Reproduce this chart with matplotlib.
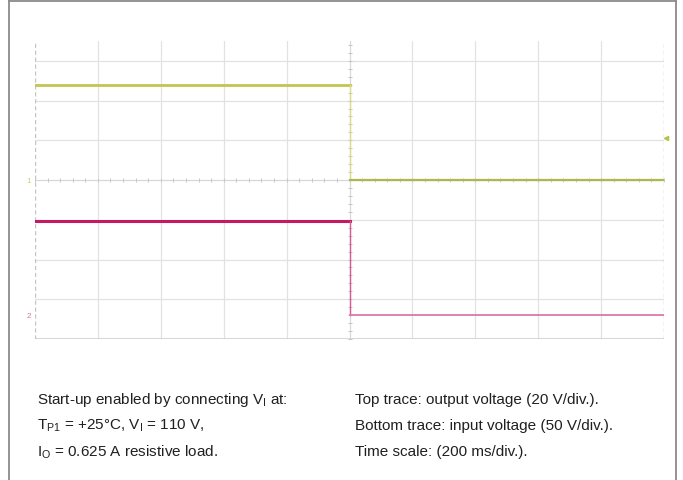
import matplotlib
matplotlib.use("Agg")
import matplotlib.pyplot as plt
from matplotlib.lines import Line2D
import numpy as np

plt.rcParams['font.family'] = ['Liberation Sans', 'DejaVu Sans']
plt.rcParams['mathtext.fontset'] = 'custom'
plt.rcParams['mathtext.rm'] = 'Liberation Sans'
plt.rcParams['mathtext.it'] = 'Liberation Sans'

# ---- data ----
time_ms = [0, 1000, 1000, 2000]          # switch-off at 1000 ms
vout_v = [48, 48, 0, 0]                  # top trace, output voltage
vin_v = [118, 118, 0, 0]                 # bottom trace, input voltage
time_per_div = 200                       # ms/div
vout_per_div = 20                        # V/div
vin_per_div = 50                         # V/div
ch1_ground_div = 0.0
ch2_ground_div = -3.4

left_lines = [r"Start-up enabled by connecting V$_{\mathrm{I}}$ at:",
              r"T$_{\mathrm{P1}}$ = +25°C, V$_{\mathrm{I}}$ = 110 V,",
              r"I$_{\mathrm{O}}$ = 0.625 A resistive load."]
right_lines = ["Top trace: output voltage (20 V/div.).",
               "Bottom trace: input voltage (50 V/div.).",
               "Time scale: (200 ms/div.)."]

W, H = 683, 481
fig = plt.figure(figsize=(W / 100, H / 100), dpi=100)
fig.patch.set_facecolor('white')

# outer frame
fc = '#8a8a8a'
fig.add_artist(Line2D([9 / W, 9 / W], [0, 1 - 2 / H], color=fc, lw=1.3))
fig.add_artist(Line2D([676 / W, 676 / W], [0, 1 - 2 / H], color=fc, lw=1.3))
fig.add_artist(Line2D([9 / W, 676 / W], [1 - 2 / H, 1 - 2 / H], color=fc, lw=1.3))

# graticule axes
x0, x1, ytop, ybot = 35, 664, 42, 340
ax = fig.add_axes([x0 / W, 1 - ybot / H, (x1 - x0) / W, (ybot - ytop) / H])
ax.set_xlim(0, 10)
ax.set_ylim(-4, 3.5)
ax.axis('off')

gc = '#e2e2e2'
for k in range(1, 10):
    if k != 5:
        ax.axvline(k, color=gc, lw=0.9, zorder=1)
for k in range(-3, 4):
    if k != 0:
        ax.axhline(k, color=gc, lw=0.9, zorder=1)
ax.axhline(-4, color='#cfcfcf', lw=1.2, zorder=1)
ax.axvline(0, color='#c4c4c4', lw=1.0, ls=(0, (3, 2)), zorder=1)
ax.axvline(10, color='#c4c4c4', lw=1.0, ls=(0, (3, 2)), zorder=1)
# centre lines with faint ticks
ax.axvline(5, color='#d8d8d8', lw=0.9, zorder=1)
ax.axhline(0, color='#d8d8d8', lw=0.9, zorder=1)
ty = np.arange(-4, 3.6, 0.2)
ax.plot([5] * len(ty), ty, ls='none', marker='_', ms=3, color='#c4c4c4', mew=0.7, zorder=2)
tx = np.arange(0, 10.01, 0.2)
ax.plot(tx, [0] * len(tx), ls='none', marker='|', ms=2.5, color='#c8c8c8', mew=0.7, zorder=2)

xd = np.array(time_ms) / time_per_div
y1 = np.array(vout_v) / vout_per_div + ch1_ground_div
y2 = np.array(vin_v) / vin_per_div + ch2_ground_div

# top trace (yellow)
ax.plot(xd[:2], y1[:2], color='#c4c450', lw=2.0, zorder=4)
ax.plot(xd[1:3], y1[1:3], color='#dcdc8a', lw=1.0, zorder=4)
ax.plot(xd[2:], y1[2:], color='#adb94c', lw=1.6, zorder=4)
# bottom trace (magenta)
ax.plot(xd[:2], y2[:2], color='#c41a62', lw=2.2, zorder=5)
ax.plot(xd[1:3], y2[1:3], color='#d85a92', lw=1.0, zorder=5)
ax.plot(xd[2:], y2[2:], color='#dc78aa', lw=1.3, zorder=5)

# ground markers
ax.text(-0.06, ch1_ground_div, '1', color='#d0d070', fontsize=6, ha='right', va='center',
        clip_on=False)
ax.text(-0.06, ch2_ground_div, '2', color='#d67aa8', fontsize=6, ha='right', va='center',
        clip_on=False)
ax.plot([10.03], [1.05], marker='<', ms=3, color='#b6c24a', clip_on=False, zorder=6)

# caption
for i, s in enumerate(left_lines):
    fig.text(37 / W, 1 - (400 + 26 * i) / H, s, fontsize=11, color='#202020',
             ha='left', va='center')
for i, s in enumerate(right_lines):
    fig.text(355 / W, 1 - (400 + 26 * i) / H, s, fontsize=11, color='#202020',
             ha='left', va='center')

fig.savefig('out.png', dpi=100, facecolor='white')
